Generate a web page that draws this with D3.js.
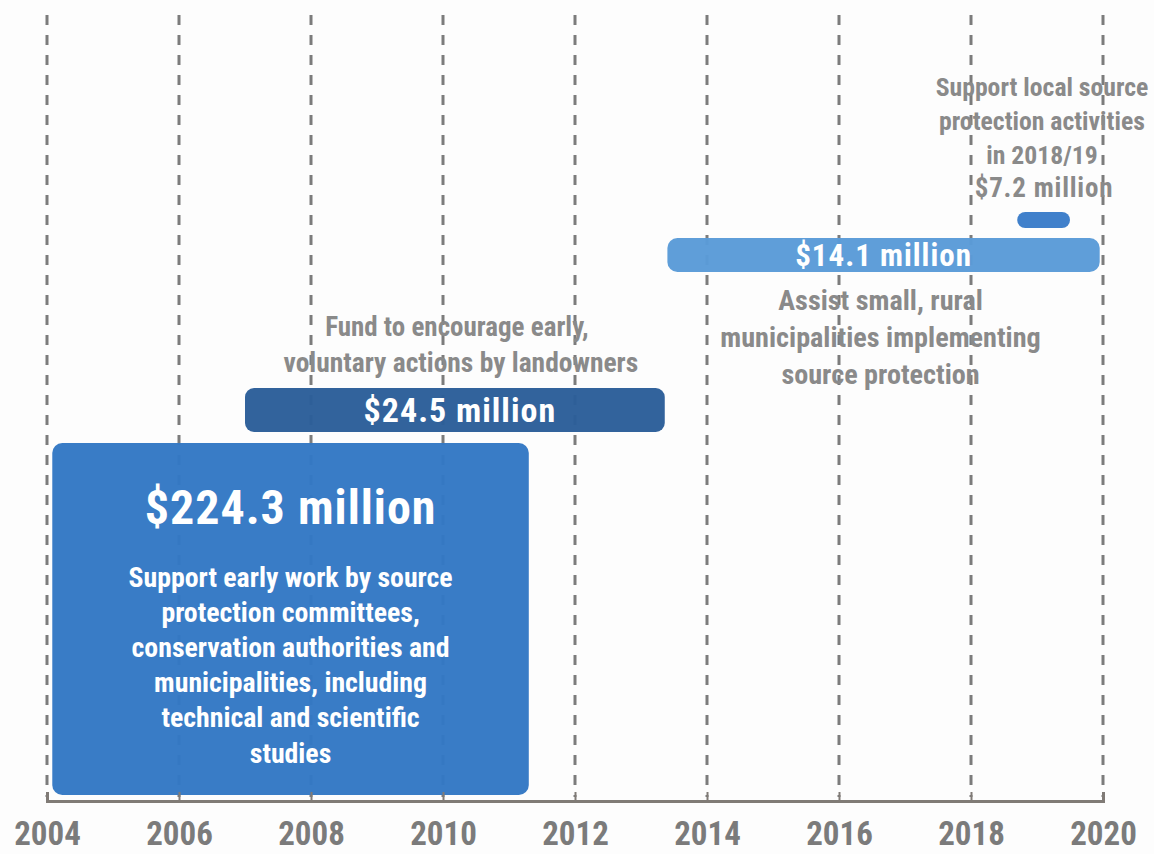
<!DOCTYPE html>
<html>
<head>
<meta charset="utf-8">
<script src="https://cdn.jsdelivr.net/npm/d3@7"></script>
<style>
  html, body { margin: 0; padding: 0; background: #fdfdfd; }
  svg { display: block; }
  text { font-family: "Roboto Condensed", Roboto, "Liberation Sans Narrow", sans-serif; font-weight: 700; }
</style>
</head>
<body>
<svg id="chart" width="1154" height="854"></svg>
<script>
// ---- data ----
const tickYears = [2004, 2006, 2008, 2010, 2012, 2014, 2016, 2018, 2020];
const programs = ["early work", "landowner fund", "small rural", "local 2018/19"];
const startYears = [2004.08, 2007.0, 2013.4, 2018.7];
const endYears = [2011.3, 2013.36, 2019.95, 2019.5];
const amounts = ["$224.3 million", "$24.5 million", "$14.1 million", "$7.2 million"];
const descriptions = [
  ["Support early work by source", "protection committees,", "conservation authorities and", "municipalities, including", "technical and scientific", "studies"],
  ["Fund to encourage early,", "voluntary actions by landowners"],
  ["Assist small, rural", "municipalities implementing", "source protection"],
  ["Support local source", "protection activities", "in 2018/19"]
];

// ---- layout ----
const W = 1154, H = 854;
const axisY = 801, gridTop = 15;
const svg = d3.select("#chart");
svg.append("rect").attr("width", W).attr("height", H).attr("fill", "#fdfdfd");

const x = d3.scaleLinear().domain([2004, 2020]).range([47, 1103]);

const barColors = ["#3378c4", "#2b5e99", "#5a9bd8", "#3a7cc9"];
const barTop = [443, 388, 238, 212];
const barH = [352, 44, 34, 16];
const barR = [10, 9, 10, 8];

function ctext(g, cx, cy, str, size, fill, ls) {
  g.append("text")
    .attr("x", cx).attr("y", cy)
    .attr("text-anchor", "middle")
    .attr("dominant-baseline", "central")
    .attr("font-size", size)
    .attr("letter-spacing", ls || 0)
    .attr("fill", fill)
    .text(str);
}

// gridlines
svg.append("g").selectAll("line").data(tickYears).join("line")
  .attr("x1", d => x(d)).attr("x2", d => x(d))
  .attr("y1", gridTop).attr("y2", axisY - 4)
  .attr("stroke", "#7c7c7c").attr("stroke-width", 3)
  .attr("stroke-dasharray", "10,10");

// bars
const bars = svg.append("g");
programs.forEach((p, i) => {
  bars.append("rect")
    .attr("x", x(startYears[i]))
    .attr("y", barTop[i])
    .attr("width", x(endYears[i]) - x(startYears[i]))
    .attr("height", barH[i])
    .attr("rx", barR[i])
    .attr("fill", barColors[i])
    .attr("fill-opacity", 0.97);
});

// axis
const axis = d3.axisBottom(x).tickValues(tickYears).tickFormat(d3.format("d"))
  .tickSizeInner(-9).tickSizeOuter(-9).tickPadding(25);
const ag = svg.append("g").attr("transform", `translate(0,${axisY})`).call(axis);
ag.select(".domain").attr("stroke", "#807b76").attr("stroke-width", 3);
ag.selectAll(".tick line").attr("stroke", "#807b76").attr("stroke-width", 2);
ag.selectAll(".tick text")
  .attr("font-size", 33).attr("fill", "#7b7b7b")
  .attr("font-family", "\"Roboto Condensed\", Roboto, sans-serif").attr("font-weight", 700)
  .attr("y", 44).attr("dy", null);

const gray = "#8a8a8a";
const labels = svg.append("g");

// 0: big box
{
  const cx = (x(startYears[0]) + x(endYears[0])) / 2;
  ctext(labels, cx, 507, amounts[0], 48, "#ffffff", 1);
  descriptions[0].forEach((s, j) => ctext(labels, cx, 577 + j * 35.2, s, 27.8, "#ffffff"));
}
// 1: landowner fund
{
  const cx = (x(startYears[1]) + x(endYears[1])) / 2;
  ctext(labels, cx + 5, 410, amounts[1], 34, "#ffffff", 1);
  ctext(labels, cx + 2, 327, descriptions[1][0], 27, gray);
  ctext(labels, cx + 6, 362, descriptions[1][1], 27.5, gray);
}
// 2: small rural
{
  const cx = (x(startYears[2]) + x(endYears[2])) / 2;
  ctext(labels, cx, 255, amounts[2], 31, "#ffffff", 1);
  descriptions[2].forEach((s, j) => ctext(labels, cx - 3, 300 + j * 37, s, 28.2, gray));
}
// 3: local 2018/19
{
  const cx = 1042;
  descriptions[3].forEach((s, j) => ctext(labels, cx, 87 + j * 34, s, 25.7, gray));
  ctext(labels, cx + 2, 188, amounts[3], 27, gray, 0.8);
}
</script>
</body>
</html>
